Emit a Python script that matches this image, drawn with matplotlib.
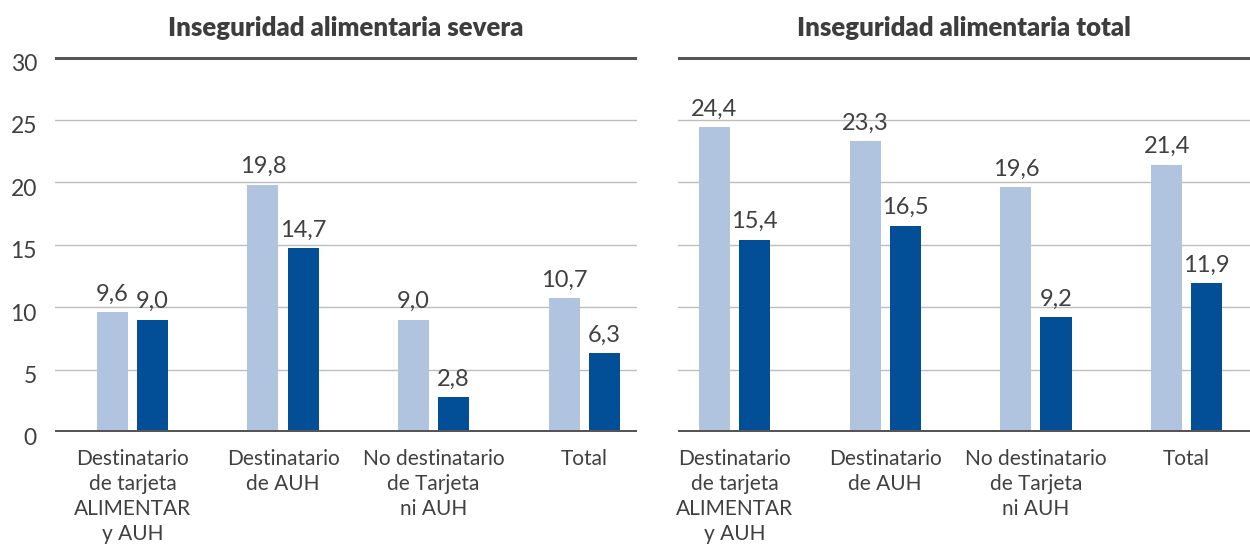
import matplotlib.pyplot as plt
import numpy as np
from matplotlib.transforms import ScaledTranslation

# data
categorias = ['Destinatario\nde tarjeta\nALIMENTAR\ny AUH', 'Destinatario\nde AUH',
              'No destinatario\nde Tarjeta\nni AUH', 'Total']
severa_a = [9.6, 19.8, 9.0, 10.7]
severa_b = [9.0, 14.7, 2.8, 6.3]
total_a = [24.4, 23.3, 19.6, 21.4]
total_b = [15.4, 16.5, 9.2, 11.9]
titulos = ['Inseguridad alimentaria severa', 'Inseguridad alimentaria total']
yticks = [0, 5, 10, 15, 20, 25, 30]

claro = '#b0c4df'
oscuro = '#024f98'
gris = '#555555'
texto = '#404040'

plt.rcParams['font.family'] = ['Lato', 'DejaVu Sans']

fig = plt.figure(figsize=(12.5, 5.48), dpi=100)
ax1 = fig.add_axes([0.044, 0.2117, 0.4656, 0.684])
ax2 = fig.add_axes([0.5424, 0.2117, 0.4576, 0.684])

x = np.arange(len(categorias))
w = 0.206
off = 0.133

def fmt(v):
    return f'{v:.1f}'.replace('.', ',')

for ax, a, b, titulo, xlim in [(ax1, severa_a, severa_b, titulos[0], (-0.515, 3.352)),
                               (ax2, total_a, total_b, titulos[1], (-0.375, 3.42))]:
    for yv in yticks[1:-1]:
        ax.axhline(yv, color='#bdbdbd', lw=1.0, zorder=0)
    ax.axhline(0, color=gris, lw=3.6, zorder=3)
    ax.axhline(30, color=gris, lw=3.6, zorder=3)
    ax.bar(x - off, a, w, color=claro, zorder=2)
    ax.bar(x + off, b, w, color=oscuro, zorder=2)
    for xi, v in zip(x - off, a):
        ax.text(xi, v + 0.6, fmt(v), ha='center', va='bottom', fontsize=17, color=texto)
    for xi, v in zip(x + off, b):
        ax.text(xi, v + 0.6, fmt(v), ha='center', va='bottom', fontsize=17, color=texto)
    ax.set_xlim(*xlim)
    ax.set_ylim(0, 30)
    ax.set_xticks(x)
    ax.set_xticklabels(categorias, fontsize=15, color=texto, linespacing=1.32)
    ax.tick_params(axis='x', length=0, pad=12)
    ax.set_title(titulo, fontsize=18.5, fontweight='heavy', color='#3d3d3d', pad=15)
    for s in ax.spines.values():
        s.set_visible(False)
    ax.set_yticks(yticks)
    ax.tick_params(axis='y', length=0, labelsize=16.5, labelcolor=texto, pad=13)

ax2.set_yticklabels([])
for lbl in ax1.get_yticklabels():
    lbl.set_transform(lbl.get_transform() + ScaledTranslation(0, -5 / 100, fig.dpi_scale_trans))

fig.savefig('out.png', dpi=100)
